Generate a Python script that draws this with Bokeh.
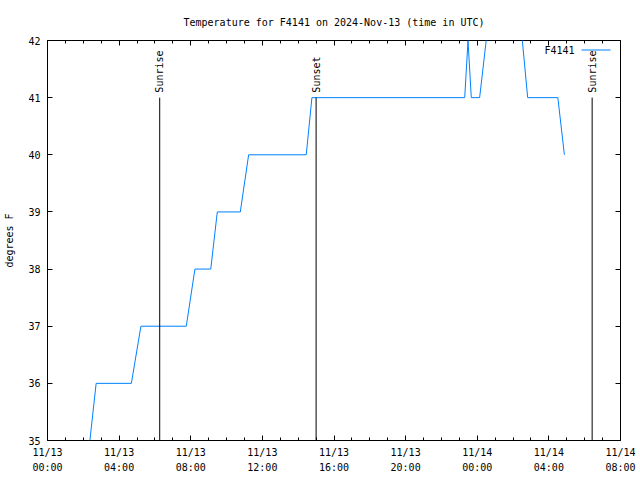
from datetime import datetime
import math
from bokeh.plotting import figure
from bokeh.models import (Range1d, SingleIntervalTicker, DatetimeTickFormatter,
                          LinearAxis, DatetimeAxis, Label, BoxAnnotation,
                          CustomLabelingPolicy)
from bokeh.core.properties import value
from bokeh.embed import file_html
from bokeh.resources import INLINE

# ---- data ----
times = ["2024-11-13 02:22", "2024-11-13 02:43", "2024-11-13 04:41", "2024-11-13 05:13",
         "2024-11-13 07:45", "2024-11-13 08:14", "2024-11-13 09:07", "2024-11-13 09:29",
         "2024-11-13 10:46", "2024-11-13 11:14", "2024-11-13 14:27", "2024-11-13 14:46",
         "2024-11-13 23:18", "2024-11-13 23:29", "2024-11-13 23:40", "2024-11-14 00:08",
         "2024-11-14 00:30", "2024-11-14 00:51", "2024-11-14 02:08", "2024-11-14 02:31",
         "2024-11-14 02:49", "2024-11-14 04:30", "2024-11-14 04:52"]
temps = [35, 36, 36, 37,
         37, 38, 38, 39,
         39, 40, 40, 41,
         41, 42, 41, 41,
         42, 43, 43, 42,
         41, 41, 40]

sun_times = ["2024-11-13 06:16", "2024-11-13 15:00", "2024-11-14 06:25"]
sun_labels = ["Sunrise", "Sunset", "Sunrise"]
sun_line_bottom = 35
sun_line_top = 41

x_start = "2024-11-13 00:00"
x_end = "2024-11-14 08:00"
y_min, y_max = 35, 42

title_text = "Temperature for F4141 on 2024-Nov-13 (time in UTC)"
y_label = "degrees F"
series_name = "F4141"

FMT = "%Y-%m-%d %H:%M"
def dt(s):
    return datetime.strptime(s, FMT)

xs = [dt(t) for t in times]
sun_x = [dt(t) for t in sun_times]

FONT = "DejaVu Sans Mono"
FS = "10px"
LINE_COLOR = "#0080ff"

p = figure(width=640, height=480, x_axis_type="datetime",
           x_range=Range1d(dt(x_start), dt(x_end)),
           y_range=Range1d(y_min, y_max),
           toolbar_location=None, output_backend="svg",
           min_border_left=47, min_border_right=20,
           min_border_top=40, min_border_bottom=40)

p.title.text = title_text
p.title.align = "center"
p.title.text_font = FONT
p.title.text_font_size = FS
p.title.text_font_style = "normal"
p.title.text_color = "black"
p.title.standoff = 25

p.xgrid.grid_line_color = None
p.ygrid.grid_line_color = None
p.outline_line_color = "black"
p.outline_line_width = 1
p.background_fill_color = "white"
p.border_fill_color = "white"

hour_ms = 3600 * 1000
x_ticker = SingleIntervalTicker(interval=4 * hour_ms, num_minor_ticks=4)
y_ticker = SingleIntervalTicker(interval=1, num_minor_ticks=0)
fmt = "%m/%d\n%H:%M"
x_formatter = DatetimeTickFormatter(hours=fmt, days=fmt, hourmin=fmt,
                                    minutes=fmt, months=fmt, context=None)

hide_labels = CustomLabelingPolicy(code="""
try {
  for (let i = 0; i < indices.size; i++) { indices.unset(i) }
} catch (e) {}
return indices
""")

def style_axis(ax):
    ax.axis_line_color = None
    ax.major_tick_in = 5
    ax.major_tick_out = 0
    ax.minor_tick_in = 3
    ax.minor_tick_out = 0
    ax.major_tick_line_color = "black"
    ax.minor_tick_line_color = "black"
    ax.major_label_text_font = FONT
    ax.major_label_text_font_size = FS
    ax.major_label_text_color = "black"

xa = p.xaxis[0]
xa.ticker = x_ticker
xa.formatter = x_formatter
style_axis(xa)
xa.major_label_standoff = 6
xa.major_label_text_line_height = 1.45

ya = p.yaxis[0]
ya.ticker = y_ticker
style_axis(ya)
ya.major_label_standoff = 7
ya.axis_label = y_label
ya.axis_label_text_font = FONT
ya.axis_label_text_font_size = FS
ya.axis_label_text_font_style = "normal"
ya.axis_label_text_color = "black"
ya.axis_label_standoff = 10

top_ax = DatetimeAxis(ticker=x_ticker, formatter=x_formatter)
style_axis(top_ax)
top_ax.major_label_text_font_size = "0px"
top_ax.major_label_standoff = 0
top_ax.major_label_policy = hide_labels
p.add_layout(top_ax, "above")

right_ax = LinearAxis(ticker=y_ticker)
style_axis(right_ax)
right_ax.major_label_text_font_size = "0px"
right_ax.major_label_standoff = 0
right_ax.major_label_policy = hide_labels
p.add_layout(right_ax, "right")

# data line
p.line(xs, temps, line_color=LINE_COLOR, line_width=1)

# sunrise / sunset markers
p.segment(x0=sun_x, y0=[sun_line_bottom] * len(sun_x),
          x1=sun_x, y1=[sun_line_top] * len(sun_x),
          line_color="black", line_width=1)
p.text(x=sun_x, y=[sun_line_top] * len(sun_x), text=sun_labels,
       angle=math.pi / 2, text_align="left", text_baseline="middle",
       text_font=value(FONT), text_font_size=FS, text_color="black",
       y_offset=-5)

# gnuplot-style key: label then line sample (screen units, frame-relative)
key_label = Label(x=527, y=390, x_units="screen", y_units="screen",
                  text=series_name, text_align="right", text_baseline="middle",
                  text_font=FONT, text_font_size=FS, text_color="black")
p.add_layout(key_label)
key_line = BoxAnnotation(left=534, right=563, top=391, bottom=390,
                         left_units="screen", right_units="screen",
                         top_units="screen", bottom_units="screen",
                         fill_color=LINE_COLOR, fill_alpha=1.0,
                         line_color=None)
p.add_layout(key_line)

open("out.html", "w").write(file_html(p, INLINE))
